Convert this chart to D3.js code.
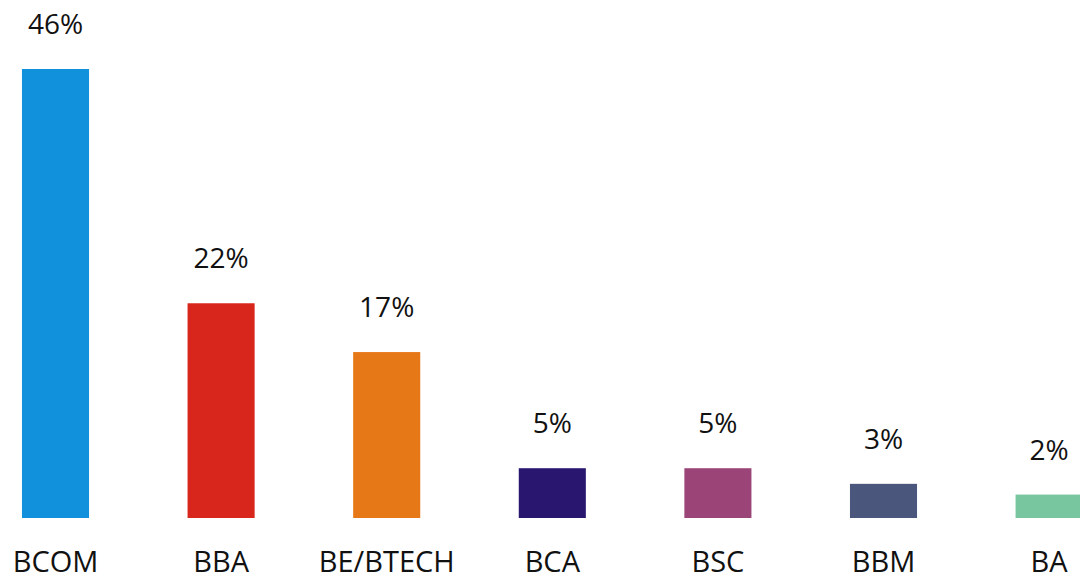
<!DOCTYPE html>
<html>
<head>
<meta charset="utf-8">
<script src="https://cdn.jsdelivr.net/npm/d3@7"></script>
<style>
  body { margin: 0; background: #fff; }
</style>
</head>
<body>
<div id="main"></div>
<script>
var ctx = {
    w: 1080,
    h: 581,
};

// data
var categories = ["BCOM", "BBA", "BE/BTECH", "BCA", "BSC", "BBM", "BA"];
var values = [46, 22, 17, 5.1, 5.1, 3.5, 2.4];
var valueLabels = ["46%", "22%", "17%", "5%", "5%", "3%", "2%"];
var colors = ["#1191db", "#d8261d", "#e67818", "#29166e", "#9a4477", "#4a567b", "#77c6a0"];

var createChart = function (svg) {
    var step = 165.6;
    var x = d3
        .scaleBand()
        .domain(categories)
        .range([55.5 - step / 2, 55.5 - step / 2 + step * categories.length])
        .paddingInner(0.595)
        .paddingOuter(0.2975);

    var y = d3.scaleLinear().domain([0, 46]).range([518, 69]);

    var data = categories.map((c, i) => ({
        cat: c,
        v: values[i],
        label: valueLabels[i],
        color: colors[i],
    }));

    var g = svg.selectAll("g.bar").data(data).enter().append("g").attr("class", "bar");

    g.append("rect")
        .attr("x", (d) => x(d.cat))
        .attr("y", (d) => y(d.v))
        .attr("width", x.bandwidth())
        .attr("height", (d) => y(0) - y(d.v))
        .attr("fill", (d) => d.color);

    g.append("text")
        .attr("x", (d) => x(d.cat) + x.bandwidth() / 2)
        .attr("y", (d) => y(d.v) - 35)
        .attr("text-anchor", "middle")
        .style("font-family", "'Open Sans', sans-serif")
        .style("font-size", "28px")
        .style("fill", "#111")
        .text((d) => d.label);

    g.append("text")
        .attr("x", (d) => x(d.cat) + x.bandwidth() / 2)
        .attr("y", 572)
        .attr("text-anchor", "middle")
        .style("font-family", "'Open Sans', sans-serif")
        .style("font-size", "29px")
        .style("fill", "#111")
        .text((d) => d.cat);
};

var svgEl = d3.select("#main").append("svg")
    .attr("width", ctx.w)
    .attr("height", ctx.h);
createChart(svgEl);
</script>
</body>
</html>
